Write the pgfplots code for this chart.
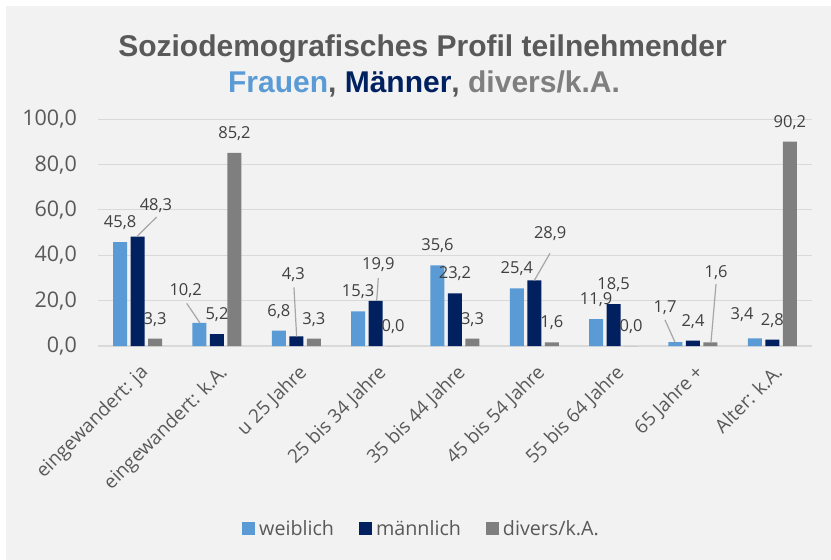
\documentclass[border=0pt]{standalone}
\usepackage{pgfplots}
\pgfplotsset{compat=1.18}
\usepackage{pgfplotstable}
\usepackage{fontspec}
\setmainfont{Open Sans}
\newfontfamily\titlefont{Liberation Sans}
\definecolor{cw}{HTML}{5B9BD5}
\definecolor{cm}{HTML}{002060}
\definecolor{cd}{HTML}{7F7F7F}
\definecolor{bg}{HTML}{F2F2F2}
\definecolor{gridc}{HTML}{D9D9D9}
\definecolor{txt}{HTML}{595959}
\definecolor{lbl}{HTML}{404040}
\definecolor{lead}{HTML}{A6A6A6}

% x = category index, y = value, dx/dy = label offset (bp)
\pgfplotstableread{
x y dx dy
0 45.8 0 14.5
1 10.2 -13.8 26.9
2 6.8 0 14.5
3 15.3 0 14.5
4 35.6 0 14.5
5 25.4 0 14.5
6 11.9 0 14.5
7 1.7 -10.5 30
8 3.4 -12.8 18.3
}\weiblich
\pgfplotstableread{
x y dx dy
0 48.3 18.3 26.2
1 5.2 0 14.5
2 4.3 -3 56.3
3 19.9 2.6 30.9
4 23.2 0 14.5
5 28.9 15.9 41.8
6 18.5 0 14.5
7 2.4 0 14.5
8 2.8 0 14.5
}\maennlich
\pgfplotstableread{
x y dx dy
0 3.3 0 14.5
1 85.2 0 14.5
2 3.3 0 14.5
3 0.0 0 14.5
4 3.3 0 14.5
5 1.6 0 14.5
6 0.0 0 14.5
7 1.6 5.7 65.1
8 90.2 0 14.5
}\divers

\pgfplotsset{
  barlabels/.style={
    visualization depends on={\thisrow{dx}\as\ldx},
    visualization depends on={\thisrow{dy}\as\ldy},
    nodes near coords={\pgfmathprintnumber[fixed,fixed zerofill,precision=1,use comma]{\pgfplotspointmeta}},
    every node near coord/.append style={anchor=base, inner sep=0pt,
      xshift=#1, xshift=\ldx bp, yshift=\ldy bp,
      font=\fontsize{16.5bp}{19bp}\selectfont, text=lbl},
  },
}

\begin{document}
\begin{tikzpicture}
\useasboundingbox (-98bp,-214bp) rectangle (733bp,346bp);
\fill[white] (-98bp,-214bp) rectangle (733bp,346bp);
\fill[bg] (-92bp,-214bp) rectangle (733bp,340bp);
\begin{axis}[
  at={(0,0)}, anchor=south west,
  scale only axis,
  width=714bp, height=226.7bp,
  xmin=-0.5, xmax=8.5, ymin=0, ymax=100,
  axis lines=left,
  y axis line style={draw=none},
  x axis line style={draw=gridc, line width=1.3bp, -},
  major tick length=0pt,
  ymajorgrids,
  grid style={gridc, line width=1bp},
  ytick={0,20,40,60,80,100},
  /pgf/number format/assume math mode=true,
  yticklabel={\pgfmathprintnumber[fixed,fixed zerofill,precision=1,use comma]{\tick}},
  yticklabel style={inner sep=0pt, xshift=-21bp, font=\fontsize{21.5bp}{24bp}\selectfont, text=txt},
  xtick={0,1,2,3,4,5,6,7,8},
  xticklabels={eingewandert: ja, eingewandert: k.A., u 25 Jahre, 25 bis 34 Jahre, 35 bis 44 Jahre, 45 bis 54 Jahre, 55 bis 64 Jahre, 65 Jahre +, Alter: k.A.},
  xticklabel style={xshift=1bp, yshift=-17bp, rotate=45, anchor=north east, inner sep=0pt, font=\fontsize{19bp}{22bp}\selectfont, text=txt},
  legend columns=3,
  legend image code/.code={\fill[#1,draw=none] (0bp,-6bp) rectangle (13bp,7bp);},
  legend style={at={(axis description cs:0.2017,-0.807)}, anchor=west, draw=none, fill=none,
    inner sep=0pt, nodes={inner sep=0pt},
    font=\fontsize{19.7bp}{22bp}\selectfont, text=txt,
    /tikz/every odd column/.append style={column sep=4bp},
    /tikz/every even column/.append style={column sep=25bp}},
  clip=false,
]
\addplot[ybar, bar width=14bp, bar shift=-17.5bp, fill=cw, draw=none, barlabels=-17.5bp] table[x=x,y=y] {\weiblich};
\addlegendentry{weiblich}
\addplot[ybar, bar width=14bp, bar shift=0bp, fill=cm, draw=none, barlabels=0bp] table[x=x,y=y] {\maennlich};
\addlegendentry{männlich}
\addplot[ybar, bar width=14bp, bar shift=17.5bp, fill=cd, draw=none, barlabels=17.5bp] table[x=x,y=y] {\divers};
\addlegendentry{divers/k.A.}
% leader lines
\addplot[lead, line width=1.2bp, forget plot, mark=none] coordinates {(0.24,56.9) (-0.01,48.3)};
\addplot[lead, line width=1.2bp, forget plot, mark=none] coordinates {(0.618,18.8) (0.785,10.2)};
\addplot[lead, line width=1.2bp, forget plot, mark=none] coordinates {(1.970,25.9) (2.004,4.3)};
\addplot[lead, line width=1.2bp, forget plot, mark=none] coordinates {(3.033,29.9) (3.013,19.9)};
\addplot[lead, line width=1.2bp, forget plot, mark=none] coordinates {(5.197,40.9) (5.0,28.9)};
\addplot[lead, line width=1.2bp, forget plot, mark=none] coordinates {(6.647,11.5) (6.773,1.7)};
\addplot[lead, line width=1.2bp, forget plot, mark=none] coordinates {(7.290,27.3) (7.227,1.6)};
\end{axis}
\node[anchor=base, inner sep=0pt, text=txt, font=\titlefont\bfseries\fontsize{30bp}{36bp}\selectfont] at (324.5bp,289bp) {Soziodemografisches Profil teilnehmender};
\node[anchor=base, inner sep=0pt, text=txt, font=\titlefont\bfseries\fontsize{30bp}{36bp}\selectfont] at (326bp,253bp) {\textcolor{cw}{Frauen}, \textcolor{cm}{Männer}, \textcolor{cd}{divers/k.A.}};
\end{tikzpicture}
\end{document}
